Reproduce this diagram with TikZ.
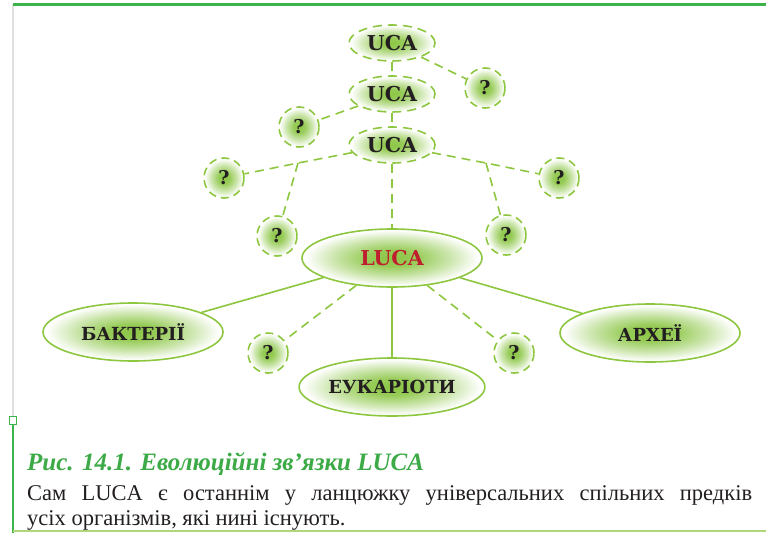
\documentclass[tikz,border=0pt]{standalone}
\usepackage{fontspec}
\setmainfont{Liberation Serif}
\newfontfamily\labelfont{DejaVu Serif}
\usetikzlibrary{shapes.geometric}
\definecolor{lucagreen}{RGB}{141,198,63}
\definecolor{lucacore}{RGB}{140,198,70}
\definecolor{lucared}{RGB}{190,30,45}
\definecolor{lucagrey}{RGB}{35,31,32}
\definecolor{framegreen}{RGB}{60,180,75}
\definecolor{captiongreen}{RGB}{60,170,70}
\pgfdeclareradialshading{lucaglow}{\pgfpoint{0bp}{0bp}}{%
  color(0bp)=(lucacore); color(7bp)=(lucacore!90!white);
  color(16bp)=(lucacore!45!white); color(24bp)=(white); color(50bp)=(white)}

\begin{document}
\begin{tikzpicture}[x=1pt, y=-1pt,
    bubble/.style={ellipse, draw=lucagreen, line width=1.6pt, shading=lucaglow,
                   minimum width=180pt, minimum height=58pt, inner sep=2pt,
                   font=\labelfont\fontsize{18}{20}\selectfont\bfseries,
                   text=lucagrey},
    bigfont/.style={font=\labelfont\fontsize{20.5}{22}\selectfont\bfseries},
    ucabubble/.style={bubble, bigfont, dash pattern=on 9pt off 6pt,
                      minimum width=86pt, minimum height=36pt},
    qmark/.style={circle, draw=lucagreen, line width=1.6pt,
                  dash pattern=on 8pt off 5pt, shading=lucaglow,
                  minimum size=40pt, inner sep=0pt,
                  font=\labelfont\fontsize{19}{20}\selectfont\bfseries,
                  text=lucagrey},
    link/.style={draw=lucagreen, line width=1.6pt},
    dlink/.style={link, dash pattern=on 9pt off 6pt},
  ]
  \useasboundingbox (0,0) rectangle (766,533);

  % --- Frame ---
  \draw[black!12, line width=1.5pt] (13,4) -- (13,417);
  \draw[framegreen, line width=3pt] (13,4) -- (766,4);
  \draw[framegreen, line width=1.5pt] (13,425) -- (13,533);
  \draw[lucagreen!70, line width=1.5pt] (13,531) -- (766,531);
  \draw[framegreen, line width=1.5pt, fill=white] (9.5,416.5) rectangle (16.5,424.5);

  % --- Ancestors (UCA) ---
  \node[ucabubble] (uca1) at (392,43) {UCA};
  \node[ucabubble] (uca2) at (392,94) {UCA};
  \node[ucabubble] (uca3) at (392,145) {UCA};

  % --- Unknown branches ---
  \foreach \n/\x/\y in {qa/485/88, qb/299/127, qc/224/178, qd/559/178,
                        qe/277/236, qf/506/235, qg/268/353, qh/514/353}
    \node[qmark] (\n) at (\x,\y) {?};

  % --- LUCA and descendants ---
  \node[bubble, bigfont, text=lucared] (luca) at (392,258) {LUCA};
  \node[bubble] (bact) at (133,332) {БАКТЕРІЇ};
  \node[bubble] (arch) at (650,333) {АРХЕЇ};
  \node[bubble] (euka) at (392,387) {ЕУКАРІОТИ};

  % --- Dashed links ---
  \coordinate (forkl) at (298,163);
  \coordinate (forkr) at (486,163);
  \draw[dlink] (uca1) -- (uca2);
  \draw[dlink] (uca1) -- (qa);
  \draw[dlink] (uca2) -- (uca3);
  \draw[dlink] (uca2) -- (qb);
  \draw[dlink] (uca3) -- (forkl) -- (qc);
  \draw[dlink] (forkl) -- (qe);
  \draw[dlink] (uca3) -- (forkr) -- (qd);
  \draw[dlink] (forkr) -- (qf);
  \draw[dlink] (uca3) -- (luca);
  \draw[dlink] (luca) -- (qg);
  \draw[dlink] (luca) -- (qh);

  % --- Solid links ---
  \draw[link] (luca) -- (bact);
  \draw[link] (luca) -- (arch);
  \draw[link] (luca) -- (euka);

  % --- Caption ---
  \node[anchor=base west, inner sep=0pt, text=captiongreen,
        font=\fontsize{25}{28}\selectfont\bfseries\itshape]
    (title) at (27,470) {Рис. 14.1. Еволюційні зв’язки LUCA};
  \node[anchor=base west, inner sep=0pt, text=lucagrey,
        font=\fontsize{22.5}{25}\selectfont]
    (line1) at (27,500)
    {\makebox[725pt][s]{Сам LUCA є останнім у ланцюжку універсальних спільних предків}};
  \node[anchor=base west, inner sep=0pt, text=lucagrey,
        font=\fontsize{22.5}{25}\selectfont]
    (line2) at (27,525) {усіх організмів, які нині існують.};
\end{tikzpicture}
\end{document}
